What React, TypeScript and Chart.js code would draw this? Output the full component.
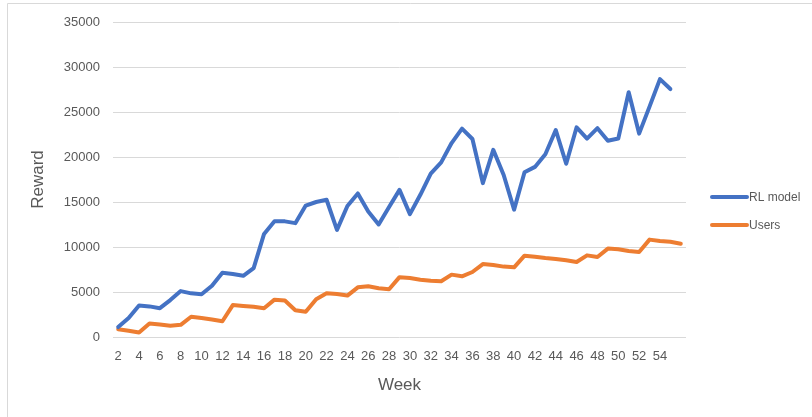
import React, { useEffect, useRef } from "react";
import { Chart, registerables } from "chart.js";

Chart.register(...registerables);

const weeks: string[] = [
  "2", "3", "4", "5", "6", "7", "8", "9", "10", "11", "12", "13", "14", "15",
  "16", "17", "18", "19", "20", "21", "22", "23", "24", "25", "26", "27", "28",
  "29", "30", "31", "32", "33", "34", "35", "36", "37", "38", "39", "40", "41",
  "42", "43", "44", "45", "46", "47", "48", "49", "50", "51", "52", "53", "54",
  "55", "56",
];

const rlModel: (number | null)[] = [
  1100, 2100, 3500, 3400, 3200, 4100, 5100, 4850, 4750, 5700, 7150, 7000, 6800,
  7650, 11450, 12850, 12850, 12650, 14600, 15000, 15250, 11900, 14550, 15950,
  13950, 12500, 14450, 16350, 13650, 15800, 18150, 19400, 21550, 23150, 22000,
  17100, 20800, 18000, 14150, 18300, 18900, 20300, 23000, 19250, 23300, 22050,
  23200, 21800, 22050, 27200, 22600, 25600, 28650, 27550, null,
];

const users: number[] = [
  850, 700, 500, 1500, 1400, 1250, 1350, 2250, 2100, 1950, 1750, 3550, 3450,
  3350, 3200, 4150, 4050, 2980, 2800, 4200, 4850, 4780, 4600, 5520, 5630, 5420,
  5300, 6650, 6560, 6370, 6260, 6190, 6930, 6740, 7220, 8100, 8000, 7820, 7740,
  9040, 8920, 8780, 8670, 8520, 8330, 9070, 8890, 9820, 9740, 9560, 9450, 10820,
  10670, 10590, 10370,
];

const shownWeekLabels: string[] = [
  "2", "4", "6", "8", "10", "12", "14", "16", "18", "20", "22", "24", "26", "28",
  "30", "32", "34", "36", "38", "40", "42", "44", "46", "48", "50", "52", "54",
];

const seriesNames = ["RL model", "Users"];
const seriesColors = ["#4472C4", "#ED7D31"];

const FONT = "'Liberation Sans', Arial, sans-serif";
const TEXT = "#595959";
const GRID = "#d9d9d9";

const decorPlugin = {
  id: "decor",
  afterDraw(chart: any) {
    const ctx = chart.ctx;
    ctx.save();
    ctx.strokeStyle = GRID;
    ctx.lineWidth = 1;
    ctx.beginPath();
    ctx.moveTo(7.5, 420);
    ctx.lineTo(7.5, 3.5);
    ctx.lineTo(820, 3.5);
    ctx.stroke();
    const ds = chart.data.datasets;
    const x0 = 712;
    const x1 = 747;
    const ys = [197, 225];
    ds.forEach((d: any, i: number) => {
      const y = ys[i];
      ctx.strokeStyle = d.borderColor;
      ctx.lineWidth = 4;
      ctx.lineCap = "round";
      ctx.beginPath();
      ctx.moveTo(x0, y);
      ctx.lineTo(x1, y);
      ctx.stroke();
      ctx.fillStyle = TEXT;
      ctx.font = `12px ${FONT}`;
      ctx.textBaseline = "middle";
      ctx.textAlign = "left";
      ctx.fillText(d.label, x1 + 2, y + 1);
    });
    ctx.restore();
  },
};

export default function App() {
  const ref = useRef<HTMLCanvasElement | null>(null);

  useEffect(() => {
    if (!ref.current) return;
    const chart = new Chart(ref.current, {
      type: "line",
      data: {
        labels: weeks,
        datasets: [
          {
            label: seriesNames[0],
            data: rlModel,
            borderColor: seriesColors[0],
            backgroundColor: seriesColors[0],
            borderWidth: 4,
            pointRadius: 0,
            tension: 0,
            borderJoinStyle: "round",
            borderCapStyle: "round",
          },
          {
            label: seriesNames[1],
            data: users,
            borderColor: seriesColors[1],
            backgroundColor: seriesColors[1],
            borderWidth: 4,
            pointRadius: 0,
            tension: 0,
            borderJoinStyle: "round",
            borderCapStyle: "round",
          },
        ],
      },
      options: {
        animation: false,
        responsive: false,
        devicePixelRatio: 1,
        layout: { padding: { top: 22, right: 126, bottom: 0, left: 0 } },
        plugins: {
          legend: { display: false },
          tooltip: { enabled: false },
        },
        scales: {
          x: {
            type: "category",
            offset: true,
            grid: { display: false, drawTicks: false },
            border: { display: false },
            ticks: {
              autoSkip: false,
              maxRotation: 0,
              minRotation: 0,
              padding: 12,
              color: TEXT,
              font: { family: FONT, size: 13 },
              callback: (_v: any, i: number) =>
                shownWeekLabels.includes(weeks[i]) ? weeks[i] : "",
            },
            title: {
              display: true,
              text: "Week",
              color: TEXT,
              font: { family: FONT, size: 17 },
              padding: { top: 0, bottom: 21 },
            },
            afterFit: (s: any) => {
              s.height = 80;
            },
          },
          y: {
            min: 0,
            max: 35000,
            grid: { color: GRID, lineWidth: 1, drawTicks: false },
            border: { display: false },
            ticks: {
              stepSize: 5000,
              padding: 13,
              color: TEXT,
              font: { family: FONT, size: 13 },
              callback: (v: any) => String(v),
            },
            title: {
              display: true,
              text: "Reward",
              color: TEXT,
              font: { family: FONT, size: 17 },
              padding: { top: 28, bottom: 0 },
            },
            afterFit: (s: any) => {
              s.width = 113;
            },
          },
        },
      },
      plugins: [decorPlugin],
    });
    return () => chart.destroy();
  }, []);

  return (
    <div style={{ position: "fixed", left: 0, top: 0, width: 812, height: 417, background: "#fff" }}>
      <canvas ref={ref} width={812} height={417} style={{ display: "block" }} />
    </div>
  );
}
